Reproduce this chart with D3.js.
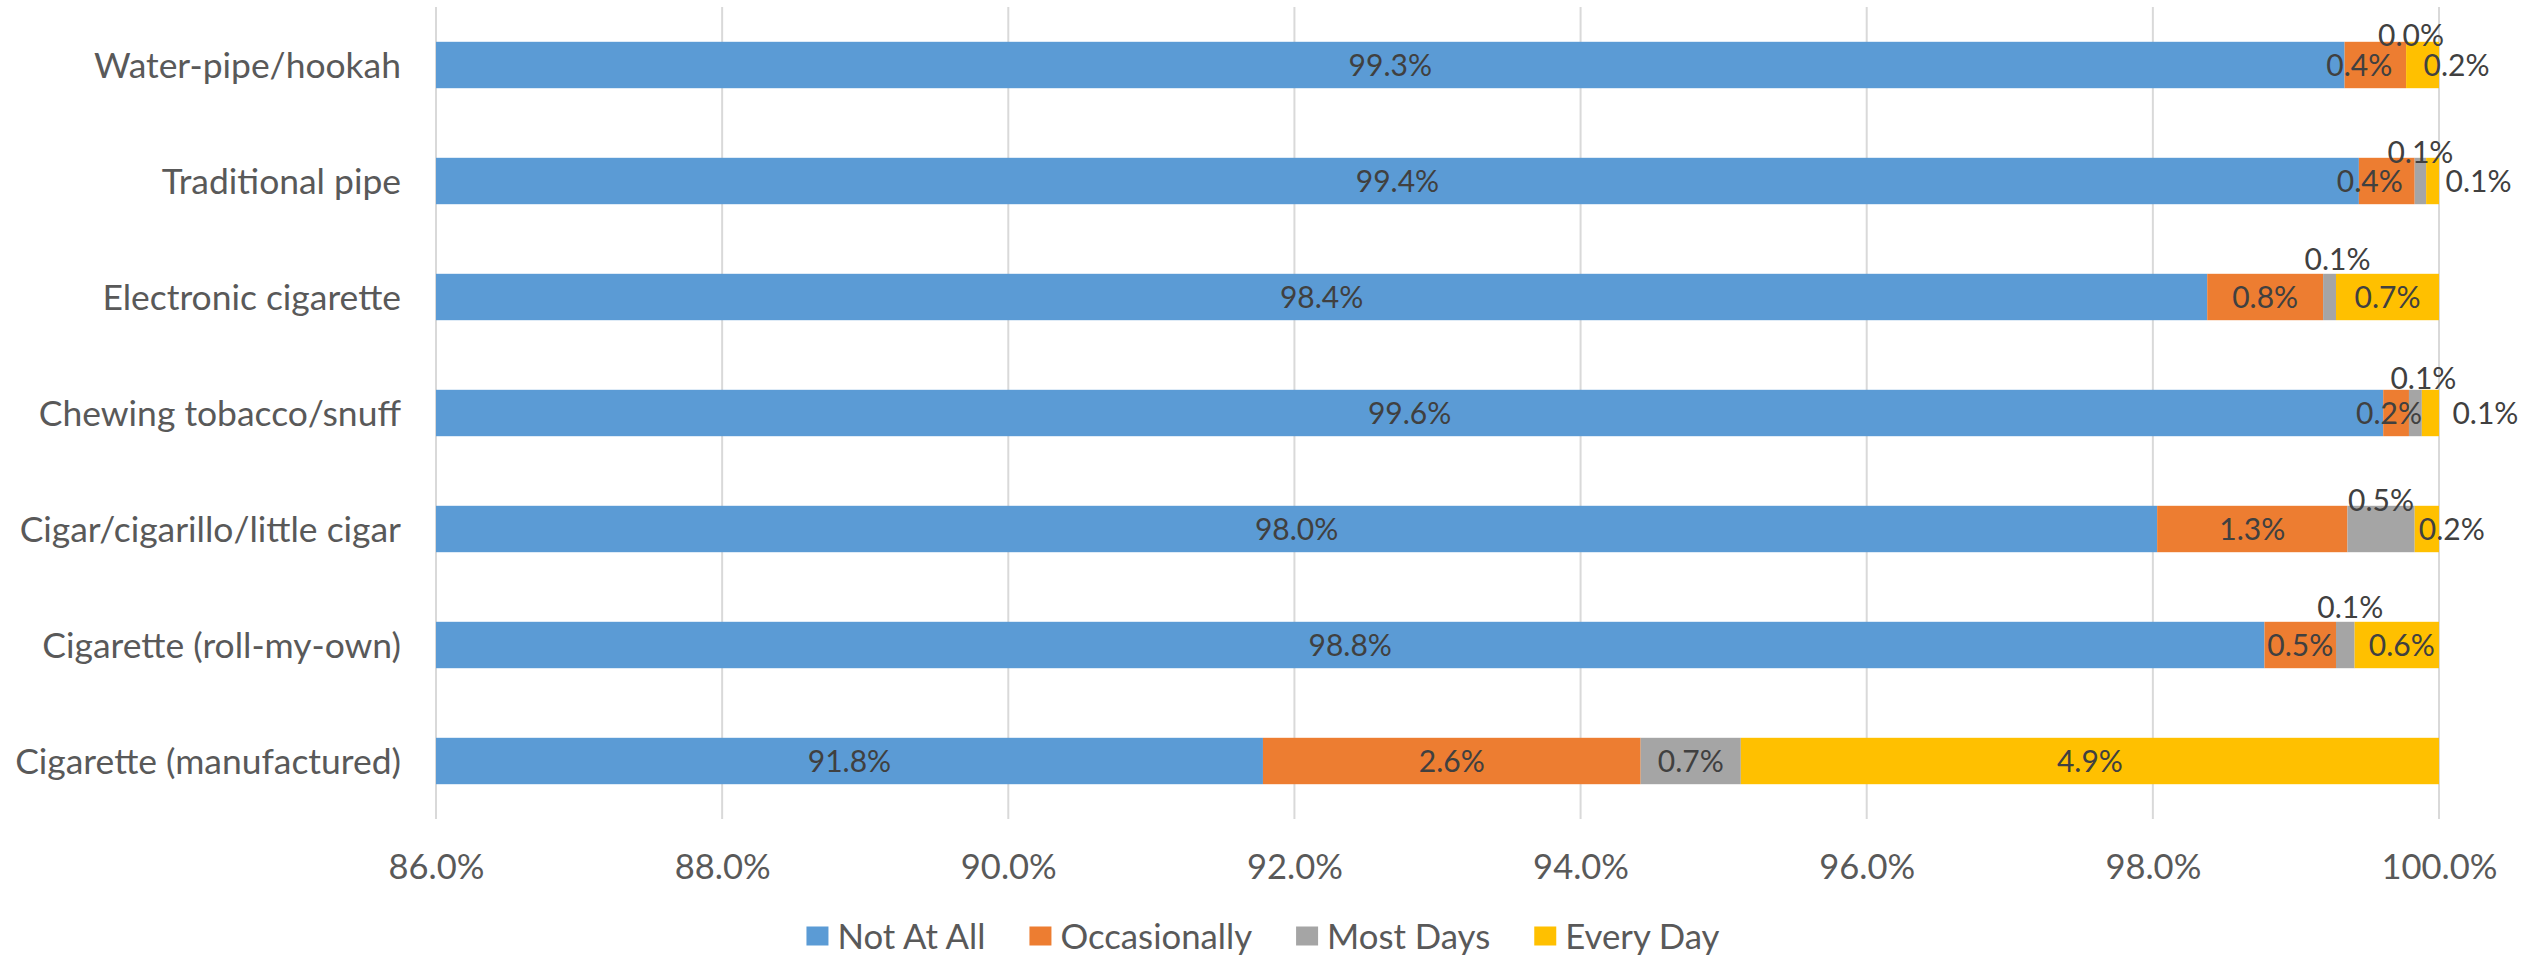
<!DOCTYPE html>
<html>
<head>
<meta charset="utf-8">
<script src="https://cdn.jsdelivr.net/npm/d3@7"></script>
<style>
  html, body { margin: 0; padding: 0; background: #fff; }
  svg { display: block; font-family: Lato, "Open Sans", sans-serif; }
</style>
</head>
<body>
<svg id="chart" width="2534" height="956"></svg>
<script>
// ---------- data ----------
const categories = [
  "Water-pipe/hookah",
  "Traditional pipe",
  "Electronic cigarette",
  "Chewing tobacco/snuff",
  "Cigar/cigarillo/little cigar",
  "Cigarette (roll-my-own)",
  "Cigarette (manufactured)"
];
const seriesNames = ["Not At All", "Occasionally", "Most Days", "Every Day"];
const notAtAll     = [99.34, 99.44, 98.38, 99.61, 98.03, 98.78, 91.78];
const occasionally = [0.43,  0.39,  0.81,  0.18,  1.33,  0.50,  2.64];
const mostDays     = [0.00,  0.08,  0.09,  0.09,  0.47,  0.13,  0.70];
const everyDay     = [0.23,  0.09,  0.72,  0.12,  0.17,  0.59,  4.88];
const xTicks = [86, 88, 90, 92, 94, 96, 98, 100];

// ---------- style / layout ----------
const colors = ["#5B9BD5", "#ED7D31", "#A5A5A5", "#FFC000"];
const plot = { left: 436, right: 2439, top: 7, bottom: 819 };
// manual label nudges (px), like hand-dragged Excel data labels
const labelNudge = {
  "Water-pipe/hookah|Occasionally": [-16, 0],
  "Water-pipe/hookah|Most Days": [5, -30],
  "Water-pipe/hookah|Every Day": [34, 0],
  "Traditional pipe|Occasionally": [-17, 0],
  "Traditional pipe|Most Days": [0, -29],
  "Traditional pipe|Every Day": [46, 0],
  "Electronic cigarette|Most Days": [8, -38],
  "Chewing tobacco/snuff|Occasionally": [-7, 0],
  "Chewing tobacco/snuff|Most Days": [8, -35],
  "Chewing tobacco/snuff|Every Day": [55, 0],
  "Cigar/cigarillo/little cigar|Most Days": [0, -29],
  "Cigar/cigarillo/little cigar|Every Day": [25, 0],
  "Cigarette (roll-my-own)|Most Days": [5, -38],
  "Cigarette (roll-my-own)|Every Day": [5, 0]
};

const svg = d3.select("#chart");

function fitSize(sample, target) {
  const t = svg.append("text").attr("font-size", 100).text(sample);
  const w = t.node().getComputedTextLength();
  t.remove();
  return 100 * target / w;
}
const catSize = fitSize("Cigarette (manufactured)", 386);
const tickSize = fitSize("100.0%", 116);
const legSize = fitSize("Not At All", 148);
const lblSize = fitSize("0.4%", 66);

// ---------- build table ----------
const table = categories.map((c, i) => ({
  category: c,
  "Not At All": notAtAll[i],
  "Occasionally": occasionally[i],
  "Most Days": mostDays[i],
  "Every Day": everyDay[i]
}));
const stacked = d3.stack().keys(seriesNames)(table);

const x = d3.scaleLinear().domain([86, 100]).range([plot.left, plot.right]).clamp(true);
const y = d3.scaleBand().domain(categories).range([plot.top, plot.bottom])
  .paddingInner(0.6).paddingOuter(0.3);
const color = d3.scaleOrdinal().domain(seriesNames).range(colors);

// gridlines
svg.append("g").selectAll("line").data(xTicks).join("line")
  .attr("x1", d => x(d)).attr("x2", d => x(d))
  .attr("y1", plot.top).attr("y2", plot.bottom)
  .attr("stroke", "#D9D9D9").attr("stroke-width", 2);

// x tick labels via axis
const xAxis = d3.axisBottom(x).tickValues(xTicks)
  .tickFormat(d => d3.format(".1f")(d) + "%").tickSize(0).tickPadding(0);
const gx = svg.append("g").attr("transform", `translate(0,${plot.bottom})`).call(xAxis);
gx.select(".domain").remove();
gx.selectAll("text")
  .attr("y", 48).attr("dy", "0.36em")
  .attr("font-size", tickSize).attr("font-family", "Lato, sans-serif")
  .attr("fill", "#595959");

// y category labels via axis
const yAxis = d3.axisLeft(y).tickSize(0).tickPadding(0);
const gy = svg.append("g").attr("transform", `translate(${plot.left},0)`).call(yAxis);
gy.select(".domain").remove();
gy.selectAll("text")
  .attr("x", -35).attr("dy", "0.36em")
  .attr("font-size", catSize).attr("font-family", "Lato, sans-serif")
  .attr("fill", "#595959").attr("text-anchor", "end");

// bars
const layers = svg.append("g").selectAll("g").data(stacked).join("g")
  .attr("fill", d => color(d.key));
layers.selectAll("rect").data(d => d.map(v => ({ v, key: d.key }))).join("rect")
  .attr("x", d => x(d.v[0]))
  .attr("width", d => Math.max(0, x(d.v[1]) - x(d.v[0])))
  .attr("y", d => y(d.v.data.category))
  .attr("height", y.bandwidth());

// data labels
const lbl = svg.append("g");
stacked.forEach(layer => {
  layer.forEach(v => {
    const cat = v.data.category;
    const val = v.data[layer.key];
    const nudge = labelNudge[cat + "|" + layer.key] || [0, 0];
    const cx = (x(v[0]) + x(v[1])) / 2 + nudge[0];
    const cy = y(cat) + y.bandwidth() / 2 + nudge[1];
    lbl.append("text")
      .attr("x", cx).attr("y", cy).attr("dy", "0.36em")
      .attr("text-anchor", "middle")
      .attr("font-size", lblSize)
      .attr("fill", "#404040")
      .text(d3.format(".1f")(val) + "%");
  });
});

// legend
const legendCenter = 1263, legendY = 936;
const sw = 22, sh = 19, swGap = 9, itemGap = 44;
const leg = svg.append("g");
const items = seriesNames.map(n => {
  const t = leg.append("text").attr("font-size", legSize).attr("fill", "#595959")
    .attr("dy", "0.36em").attr("y", legendY).text(n);
  return { n, t, w: t.node().getComputedTextLength() };
});
const total = d3.sum(items, d => sw + swGap + d.w) + itemGap * (items.length - 1);
let cx = legendCenter - total / 2;
items.forEach(it => {
  leg.append("rect").attr("x", cx).attr("y", legendY - sh / 2)
    .attr("width", sw).attr("height", sh).attr("fill", color(it.n));
  it.t.attr("x", cx + sw + swGap);
  cx += sw + swGap + it.w + itemGap;
});
</script>
</body>
</html>
